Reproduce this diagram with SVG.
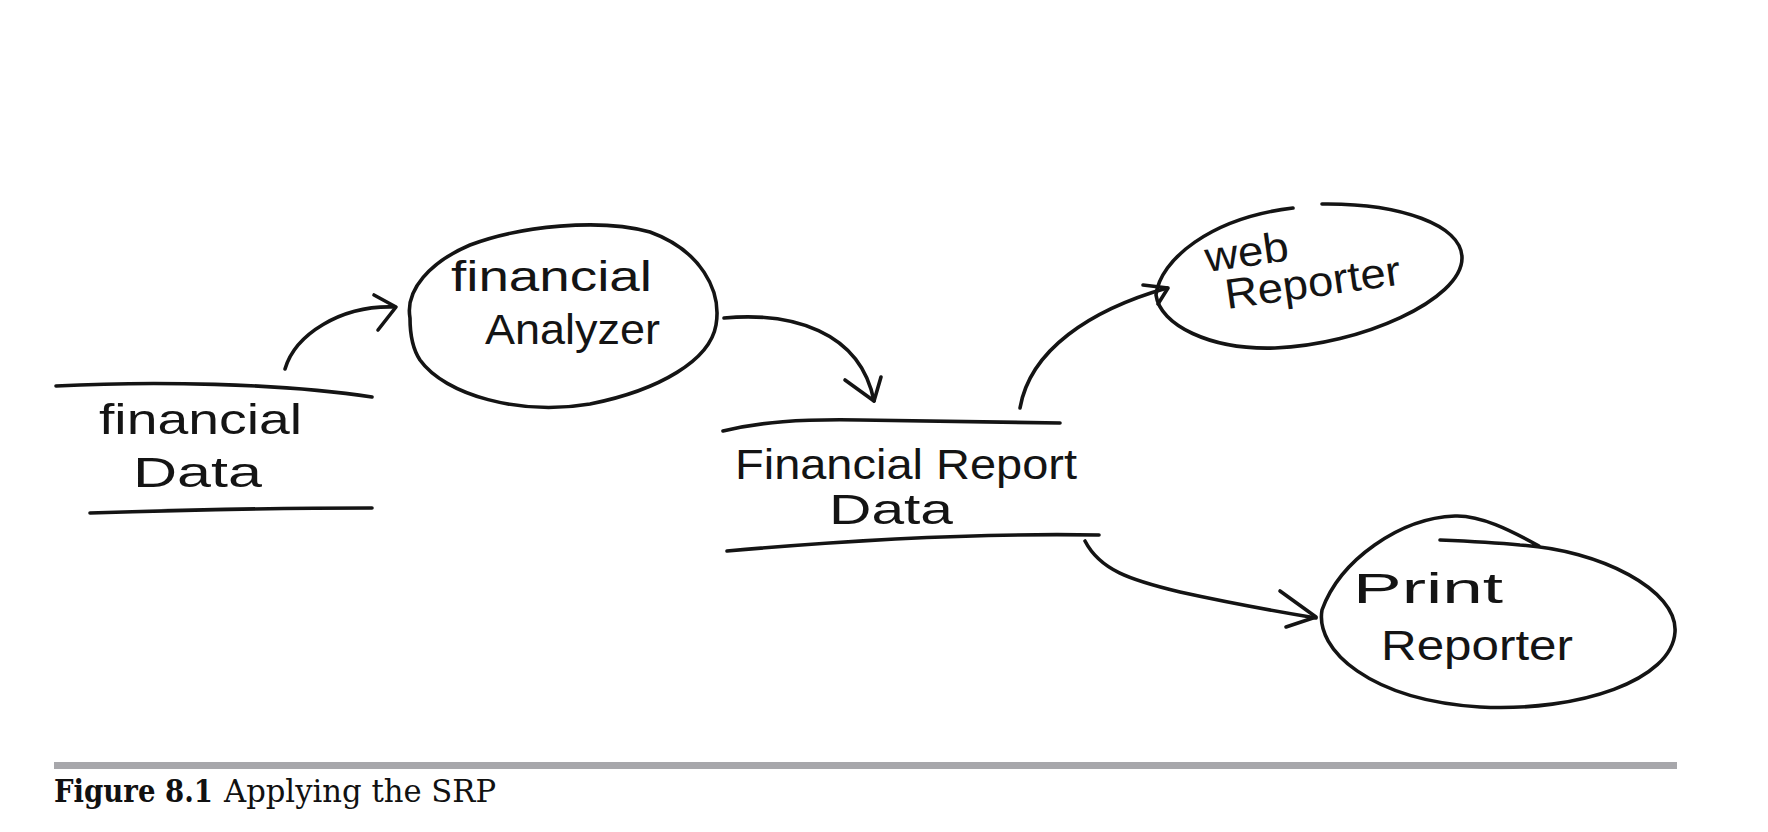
<svg xmlns="http://www.w3.org/2000/svg" width="1768" height="832" viewBox="0 0 1768 832">
<style>
.ink{fill:none;stroke:#141414;stroke-width:3.6;stroke-linecap:round;stroke-linejoin:round}
.hw{font-family:"Liberation Sans",Arial,sans-serif;font-size:42px;fill:#141414}
.cap{font-family:"DejaVu Serif","Liberation Serif",serif;font-size:32px;fill:#111}
</style>
<rect width="1768" height="832" fill="#fff"/>

<g id="financial-data">
<path class="ink" d="M56,386 C150,381 280,383 372,397"/>
<path class="ink" d="M90,513 C180,510 300,508 372,508"/>
<text class="hw" x="99" y="434" textLength="203" lengthAdjust="spacingAndGlyphs">financial</text>
<text class="hw" x="133" y="487" textLength="129" lengthAdjust="spacingAndGlyphs">Data</text>
</g>

<g id="financial-analyzer">
<path class="ink" d="M410,318 C405,290 430,262 470,245 C520,226 600,218 650,232 C700,250 722,290 716,325 C710,360 660,390 590,404 C520,416 445,395 420,360 C412,348 410,332 410,318 Z"/>
<text class="hw" x="451" y="291" textLength="201" lengthAdjust="spacingAndGlyphs">financial</text>
<text class="hw" x="485" y="344" textLength="175" lengthAdjust="spacingAndGlyphs">Analyzer</text>
</g>

<g id="financial-report-data">
<path class="ink" d="M723,431 C760,422 800,419 860,420 C940,421 1010,422 1060,423"/>
<path class="ink" d="M727,551 C850,540 980,533 1099,535"/>
<text class="hw" x="735" y="479" textLength="342" lengthAdjust="spacingAndGlyphs">Financial Report</text>
<text class="hw" x="829" y="524" textLength="124" lengthAdjust="spacingAndGlyphs">Data</text>
</g>

<g id="web-reporter">
<path class="ink" d="M1322,204 C1400,203 1462,225 1462,258 C1462,300 1360,345 1275,348 C1210,350 1160,325 1156,295 C1160,260 1210,218 1293,208"/>
<text class="hw" x="1207" y="272" textLength="84" lengthAdjust="spacingAndGlyphs" transform="rotate(-8 1207 272)">web</text>
<text class="hw" x="1227" y="309" textLength="177" lengthAdjust="spacingAndGlyphs" transform="rotate(-8 1227 309)">Reporter</text>
</g>

<g id="print-reporter">
<path class="ink" d="M1539,546 C1510,530 1480,515 1455,516 C1400,518 1340,560 1322,610 C1315,650 1370,700 1480,707 C1580,712 1672,680 1675,632 C1678,590 1600,550 1520,545 C1490,542 1465,541 1440,540"/>
<text class="hw" x="1353" y="603" textLength="150" lengthAdjust="spacingAndGlyphs">Print</text>
<text class="hw" x="1381" y="660" textLength="192" lengthAdjust="spacingAndGlyphs">Reporter</text>
</g>

<g id="connectors">
<path class="ink" d="M285,369 C295,335 340,305 395,307"/>
<path class="ink" d="M374,295 L396,307 L378,330"/>
<path class="ink" d="M724,318 C790,312 860,330 874,401"/>
<path class="ink" d="M845,380 L874,401 L881,377"/>
<path class="ink" d="M1020,408 C1030,350 1090,310 1167,288"/>
<path class="ink" d="M1143,285 L1168,288 L1158,304"/>
<path class="ink" d="M1085,541 C1100,570 1130,580 1180,592 C1230,603 1280,612 1316,618"/>
<path class="ink" d="M1280,591 L1316,617 L1286,627"/>
</g>

<g id="caption">
<rect x="54" y="762" width="1623" height="7" fill="#a7a7ab"/>
<text class="cap" x="54" y="802" font-weight="bold" textLength="159" lengthAdjust="spacingAndGlyphs">Figure 8.1</text>
<text class="cap" x="224" y="802" textLength="272" lengthAdjust="spacingAndGlyphs">Applying the SRP</text>
</g>
</svg>
